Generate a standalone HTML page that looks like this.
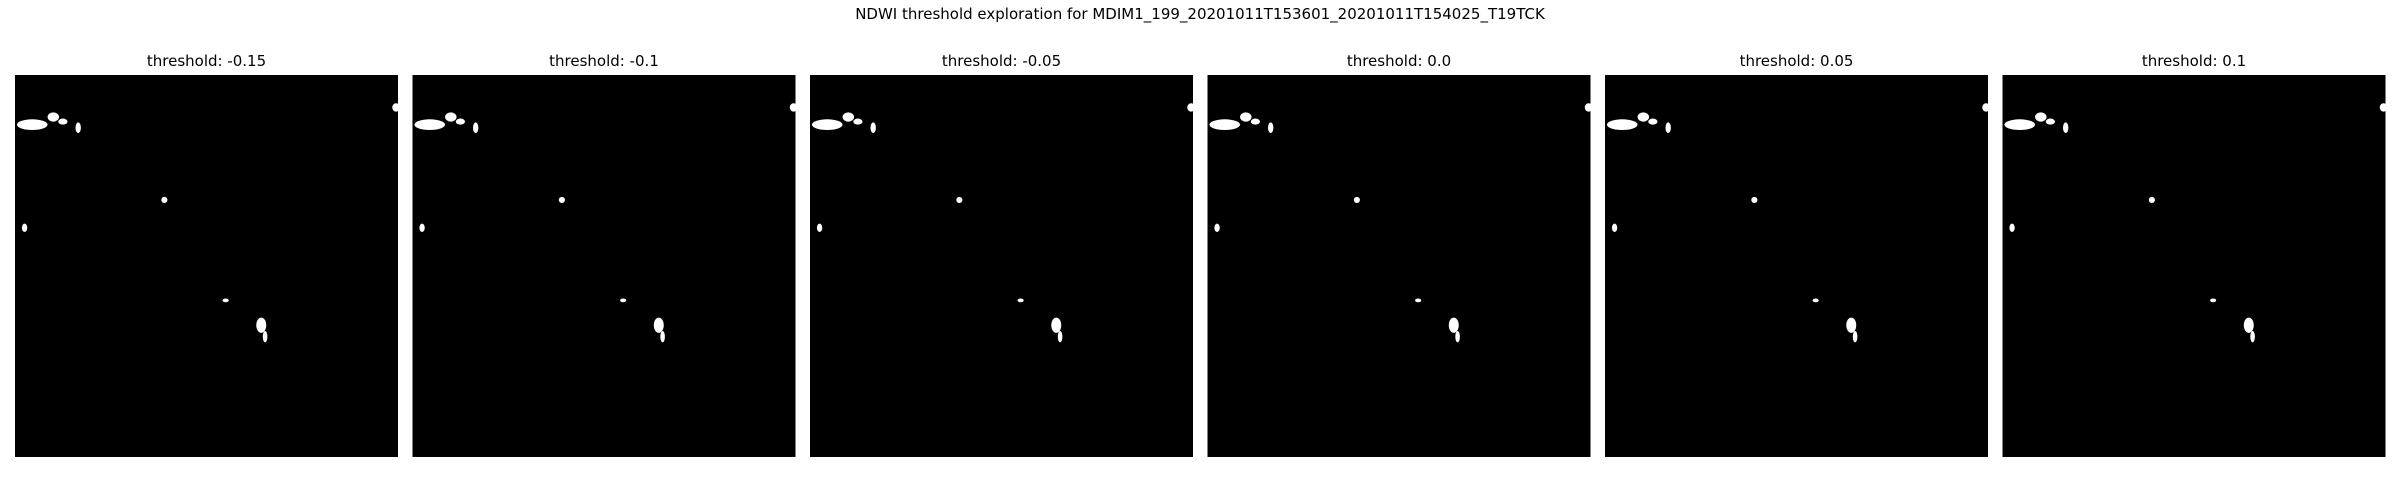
<!DOCTYPE html>
<html><head><meta charset="utf-8"><style>
html,body{margin:0;padding:0;background:#fff;width:2400px;height:500px;overflow:hidden}
svg text{font-family:"DejaVu Sans","Liberation Sans",sans-serif;fill:#000}
</style></head><body>
<svg id="fig" width="2400" height="500" xmlns="http://www.w3.org/2000/svg">
<text x="1200" y="19" text-anchor="middle" font-size="15">NDWI threshold exploration for MDIM1_199_20201011T153601_20201011T154025_T19TCK</text>
</svg>
<script>
const thresholds = [-0.15, -0.1, -0.05, 0.0, 0.05, 0.1];
// blobs: relative centre x, y, radius x, radius y (image fraction)
const blobX = [0.045, 0.1, 0.125, 0.165, 0.995, 0.39, 0.025, 0.55, 0.643, 0.653];
const blobY = [0.13, 0.11, 0.122, 0.138, 0.085, 0.327, 0.4, 0.59, 0.655, 0.685];
const blobRX = [0.04, 0.015, 0.012, 0.007, 0.01, 0.008, 0.007, 0.008, 0.013, 0.006];
const blobRY = [0.014, 0.012, 0.008, 0.014, 0.011, 0.008, 0.011, 0.005, 0.02, 0.015];
const ns = "http://www.w3.org/2000/svg";
const svg = document.getElementById('fig');
const panelX0 = 15, panelPitch = 397.5, panelW = 383, panelY = 75, panelH = 382;
thresholds.forEach((t, i) => {
  const x0 = panelX0 + i * panelPitch;
  const g = document.createElementNS(ns, 'g');
  
  
  const tt = document.createElementNS(ns, 'text');
  
  
  tt.setAttribute('x', x0 + panelW / 2);
  tt.setAttribute('y', 66);
  tt.setAttribute('text-anchor', 'middle');
  tt.setAttribute('font-size', '15');
  tt.textContent = 'threshold: ' + (Number.isInteger(t) ? t.toFixed(1) : String(t));
  g.appendChild(tt);
  const r = document.createElementNS(ns, 'rect');
  
  
  r.setAttribute('x', x0); r.setAttribute('y', panelY);
  r.setAttribute('width', panelW); r.setAttribute('height', panelH);
  r.setAttribute('fill', '#000');
  g.appendChild(r);
  blobX.forEach((bx, j) => {
    const e = document.createElementNS(ns, 'ellipse');
    
    
    e.setAttribute('cx', x0 + bx * panelW);
    e.setAttribute('cy', panelY + blobY[j] * panelH);
    e.setAttribute('rx', blobRX[j] * panelW);
    e.setAttribute('ry', blobRY[j] * panelH);
    e.setAttribute('fill', '#fff');
    g.appendChild(e);
  });
  svg.appendChild(g);
});
</script>
</body></html>
